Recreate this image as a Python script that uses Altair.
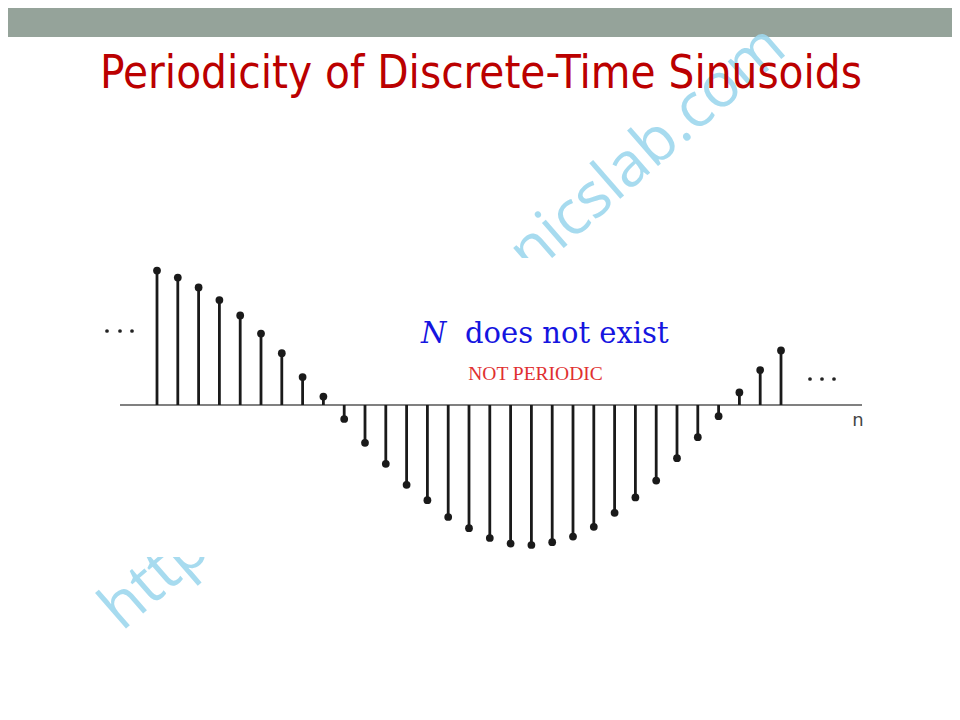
import altair as alt
import pandas as pd

# ---- data ----
n_index = list(range(31))
x_values = [0.96, 0.91, 0.84, 0.75, 0.64, 0.51, 0.37, 0.20, 0.06,
            -0.10, -0.27, -0.42, -0.57, -0.68, -0.80, -0.88, -0.95, -0.99, -1.00,
            -0.98, -0.94, -0.87, -0.77, -0.66, -0.54, -0.38, -0.23, -0.08,
            0.09, 0.25, 0.39]

title_text = "Periodicity of Discrete-Time Sinusoids"
watermark_text = "http://www.electronicslab.com"

df = pd.DataFrame({"n": n_index, "x": x_values, "zero": [0.0] * len(n_index)})

W, H = 944, 704
X0, XS = 149.0, 20.8   # pixel of n=0, pixels per sample
Y0, YS = 397.0, 140.0  # pixel of x=0, pixels per unit
xs = alt.Scale(domain=[-X0 / XS, (W - X0) / XS], nice=False, zero=False)
ys = alt.Scale(domain=[-(H - Y0) / YS, Y0 / YS], nice=False, zero=False)


def dx(v):
    return (v - X0) / XS


def dy(v):
    return (Y0 - v) / YS


def box(x1, x2, y1, y2):
    return pd.DataFrame({"a": [dx(x1)], "b": [dx(x2)], "c": [dy(y1)], "d": [dy(y2)]})


def pts(xl, y):
    return pd.DataFrame({"a": [dx(v) for v in xl], "c": [dy(y)] * len(xl)})


XA = alt.X("a:Q", scale=xs, axis=None)
YA = alt.Y("c:Q", scale=ys, axis=None)

bar = alt.Chart(box(0, W, 0, 29)).mark_rect(color="#95A39A").encode(
    x=XA, x2="b:Q", y=YA, y2="d:Q")

title = alt.Chart(pts([473], 80)).mark_text(
    text=title_text, font="DejaVu Sans Condensed", fontSize=45.3,
    color="#BB0000", align="center", baseline="alphabetic").encode(x=XA, y=YA)

water = alt.Chart(pts([114], 624)).mark_text(
    text=watermark_text, font="Open Sans", fontSize=62, angle=319,
    color="#9ED8EE", opacity=0.9, align="left", baseline="alphabetic").encode(x=XA, y=YA)

cover = alt.Chart(box(87, 865, 250, 549)).mark_rect(color="white").encode(
    x=XA, x2="b:Q", y=YA, y2="d:Q")

axis_line = alt.Chart(box(112, 854, Y0, Y0)).mark_rule(color="#808080", strokeWidth=2).encode(
    x=XA, x2="b:Q", y=YA)

stems = alt.Chart(df).mark_rule(color="#1a1a1a", strokeWidth=2.8).encode(
    x=alt.X("n:Q", scale=xs, axis=None),
    y=alt.Y("x:Q", scale=ys, axis=None),
    y2="zero:Q")

heads = alt.Chart(df).mark_circle(color="#1a1a1a", opacity=1, size=60).encode(
    x=alt.X("n:Q", scale=xs, axis=None),
    y=alt.Y("x:Q", scale=ys, axis=None))

dots_l = alt.Chart(pts([99, 112, 124], 323)).mark_circle(
    color="#222222", opacity=1, size=14).encode(x=XA, y=YA)
dots_r = alt.Chart(pts([802, 814, 826], 371)).mark_circle(
    color="#222222", opacity=1, size=14).encode(x=XA, y=YA)

n_lbl = alt.Chart(pts([850], 413)).mark_text(text="n", fontSize=18, font="DejaVu Sans",
                                              color="#444444", align="center").encode(x=XA, y=YA)

N_lbl = alt.Chart(pts([413], 335)).mark_text(text="N", fontSize=29, font="DejaVu Serif",
                                              fontStyle="italic", color="#1515E0",
                                              align="left", baseline="alphabetic").encode(x=XA, y=YA)
exist_lbl = alt.Chart(pts([457], 335)).mark_text(text="does not exist", fontSize=29,
                                                  font="DejaVu Serif", color="#1515E0",
                                                  align="left", baseline="alphabetic").encode(x=XA, y=YA)
np_lbl = alt.Chart(pts([527.5], 372)).mark_text(text="NOT PERIODIC", fontSize=19.5,
                                                 font="Liberation Serif", color="#E03030",
                                                 align="center", baseline="alphabetic").encode(x=XA, y=YA)

chart = alt.layer(
    bar, water, cover, title, axis_line, stems, heads,
    dots_l, dots_r, n_lbl, N_lbl, exist_lbl, np_lbl
).properties(
    width=W, height=H, padding=0, autosize=alt.AutoSizeParams(type="none"),
    background="white"
).configure_view(stroke=None)

chart.save("out.html", embed_options={"renderer": "svg", "actions": False})
